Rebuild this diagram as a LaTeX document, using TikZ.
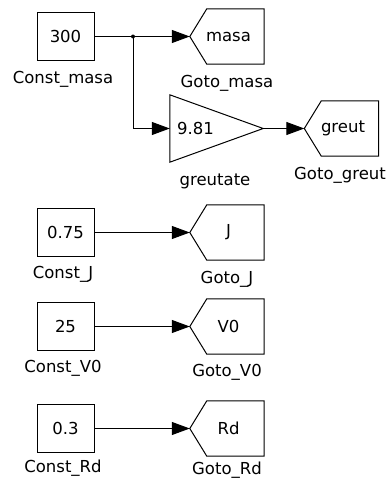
\documentclass[tikz,border=0pt]{standalone}
\usepackage{fontspec}
\newfontfamily\lblfont{DejaVu Sans}
\usetikzlibrary{arrows.meta,calc}
\tikzset{
  every node/.style={font=\lblfont\fontsize{16.5}{18}\selectfont, inner sep=0pt},
  constbox/.style={draw, line width=1pt, minimum width=57pt, minimum height=48pt},
  gotobox/.style={minimum width=74pt, minimum height=55pt},
  gotoline/.style={line width=1pt, line join=miter},
  conn/.style={line width=1pt, -{Triangle[length=18pt,width=13pt]}},
  lbl/.style={anchor=base},
}
\newcommand\drawgoto[1]{%
  \draw[gotoline] (#1.west) -- ([xshift=17pt]#1.north west) -- (#1.north east)
    -- (#1.south east) -- ([xshift=17pt]#1.south west) -- cycle;}
\begin{document}
\begin{tikzpicture}[x=1pt,y=-1pt]
\useasboundingbox (0,0) rectangle (390,479);
% constants
\node[constbox] (cm) at (65.5,36.5) {300};
\node[constbox] (cj) at (65.5,232.5) {0.75};
\node[constbox] (cv) at (65.5,326.5) {25};
\node[constbox] (cr) at (65.5,428.5) {0.3};
% gotos
\node[gotobox] (gm) at (227,36.5) {\hspace*{3pt}masa};
\node[gotobox] (gj) at (227,232.5) {\hspace*{3pt}J};
\node[gotobox] (gv) at (227,326.5) {\hspace*{3pt}V0};
\node[gotobox] (gr) at (227,428.5) {\hspace*{3pt}Rd};
\node[gotobox] (gg) at (341.5,128.5) {\hspace*{3pt}greut};
\drawgoto{gm}\drawgoto{gj}\drawgoto{gv}\drawgoto{gr}\drawgoto{gg}
% gain
\node[minimum width=93pt, minimum height=67pt] (gain) at (216.5,128.5) {};
\draw[gotoline] (gain.north west) -- (gain.east) -- (gain.south west) -- cycle;
\node[anchor=west] (gaintxt) at (177,128.5) {9.81};
% labels
\node[lbl] (lcm) at (63,83) {Const\_masa};
\node[lbl] (lgm) at (227,87) {Goto\_masa};
\node[lbl] (lgain) at (215,185) {greutate};
\node[lbl] (lgg) at (340,179) {Goto\_greut};
\node[lbl] (lcj) at (63,278) {Const\_J};
\node[lbl] (lgj) at (227,283) {Goto\_J};
\node[lbl] (lcv) at (63,372) {Const\_V0};
\node[lbl] (lgv) at (227,376) {Goto\_V0};
\node[lbl] (lcr) at (63,472) {Const\_Rd};
\node[lbl] (lgr) at (227,474) {Goto\_Rd};
% connectors
\coordinate (br) at (133,36.5);
\draw[conn] (cm.east) -- (gm.west);
\draw[conn] (br) |- (gain.west);
\fill (br) circle (2pt);
\draw[conn] (gain.east) -- (gg.west);
\draw[conn] (cj.east) -- (gj.west);
\draw[conn] (cv.east) -- (gv.west);
\draw[conn] (cr.east) -- (gr.west);
\end{tikzpicture}
\end{document}
